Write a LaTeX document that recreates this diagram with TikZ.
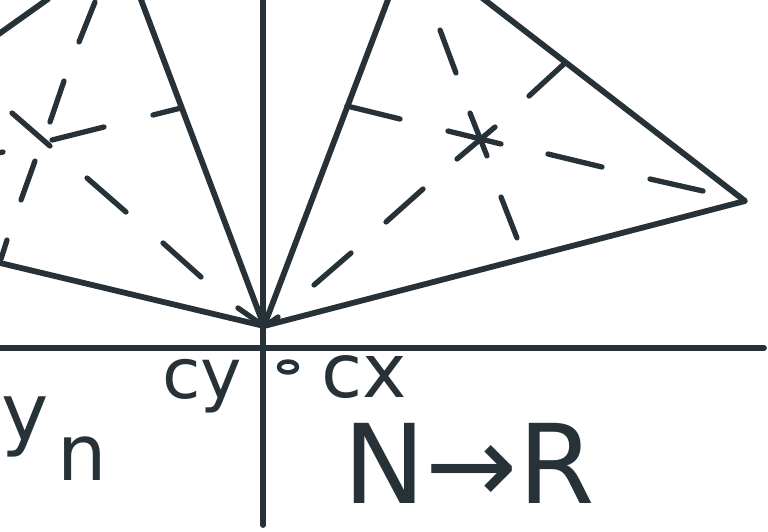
\documentclass[tikz,border=0pt]{standalone}
\usepackage{fontspec}
\setmainfont{DejaVu Sans}
\definecolor{inkc}{HTML}{263238}
\begin{document}
\begin{tikzpicture}[x=1pt,y=-1pt,line cap=round,line join=round,
  ink/.style={draw=inkc,line width=5.8pt},
  stroke/.style={draw=inkc,line width=5.3pt},
  txt/.style={text=inkc,inner sep=0pt,anchor=base}]
\useasboundingbox (0,0) rectangle (768,531);
\clip (0,0) rectangle (768,531);
% key points
\coordinate (O) at (264,326);
\coordinate (LT) at (140,-3);
\coordinate (LB) at (-4,262);
\coordinate (TLa) at (-4,36);
\coordinate (TLb) at (48,-1);
\coordinate (RT) at (389,-3);
\coordinate (RU) at (481,-3);
\coordinate (RR) at (745,201);
\coordinate (Vt) at (263,-5);
\coordinate (Vb) at (263,525);
\coordinate (Hl) at (-5,348);
\coordinate (Hr) at (764,348);
% axes
\draw[ink] (Vt) -- (Vb);
\draw[ink] (Hl) -- (Hr);
% left triangle
\draw[ink] (LT) -- (O);
\draw[ink] (LB) -- (O);
\draw[ink] (TLa) -- (TLb);
\draw[stroke] (238,308) -- (258,322);
\draw[stroke] (181,108) -- (153,115);
% left dashes
\draw[stroke] (95,2) -- (79,42);
\draw[stroke] (64,81) -- (50,122);
\draw[stroke] (12,113) -- (50,146);
\draw[stroke] (52,140) -- (104,127);
\draw[stroke] (3,152) -- (-2,153);
\draw[stroke] (35,161) -- (21,200);
\draw[stroke] (87,178) -- (126,212);
\draw[stroke] (163,243) -- (201,277);
\draw[stroke] (7,240) -- (1,259);
% right triangle
\draw[ink] (O) -- (RT);
\draw[ink] (RU) -- (RR) -- (O);
\draw[stroke] (278,317) -- (268,324);
\draw[stroke] (347,106) -- (400,119);
\draw[stroke] (565,63) -- (529,96);
% right dashes
\draw[stroke] (440,30) -- (456,73);
\draw[stroke] (470,113) -- (487,156);
\draw[stroke] (448,131) -- (501,144);
\draw[stroke] (457,159) -- (495,127);
\draw[stroke] (548,154) -- (602,167);
\draw[stroke] (650,179) -- (703,191);
\draw[stroke] (423,189) -- (386,222);
\draw[stroke] (351,253) -- (314,285);
\draw[stroke] (501,197) -- (517,238);
% small loop
\draw[draw=inkc,line width=4.5pt] (288,367) ellipse [x radius=9pt,y radius=5.5pt];
% labels
\node[txt] (cy) at (202,398) {\fontsize{70}{80}\selectfont cy};
\node[txt] (cx) at (364,397) {\fontsize{75}{85}\selectfont cx};
\node[txt] (y) at (25,440) {\fontsize{80}{90}\selectfont y};
\node[txt] (n) at (82,480) {\fontsize{78}{88}\selectfont n};
\node[txt] (nr) at (469,503) {\fontsize{110}{120}\selectfont N→R};
\end{tikzpicture}
\end{document}
